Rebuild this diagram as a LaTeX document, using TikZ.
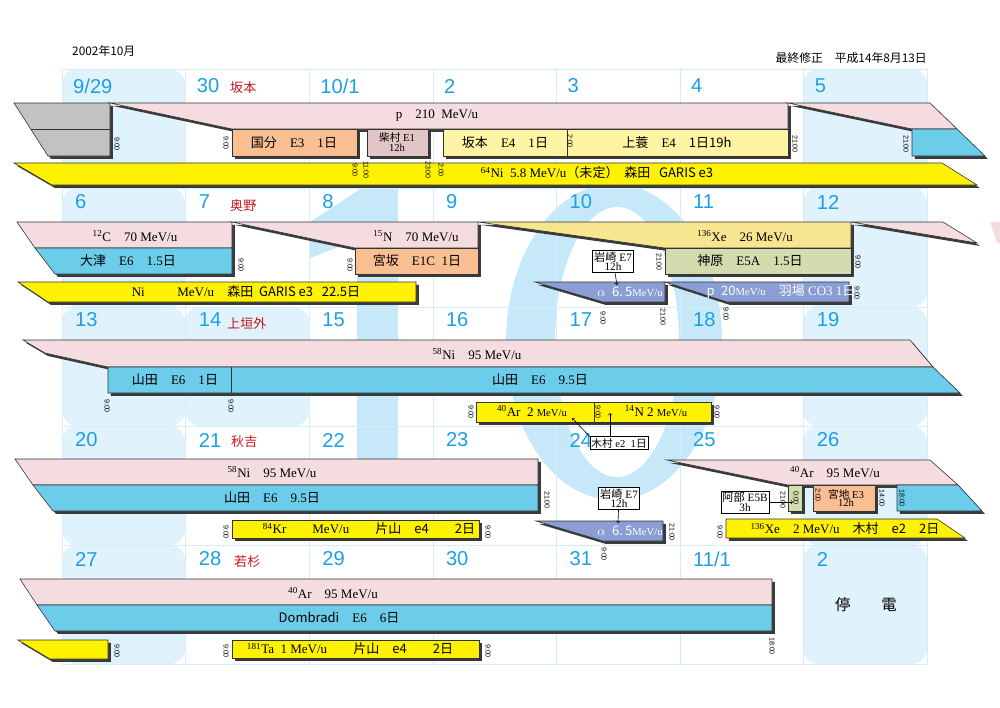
\documentclass[tikz,border=0pt]{standalone}
\usepackage{fontspec}
\setmainfont{Liberation Serif}
\newfontfamily\jpfont{Noto Sans CJK JP}
\newfontfamily\numfont{Liberation Sans}
\newcommand\JP[1]{{\jpfont #1}}
\newcommand\iso[2]{\textsuperscript{#1}#2}
\newcommand\smallunit{{\fontsize{9}{9}\selectfont MeV/u}}
\usetikzlibrary{shadows}

\definecolor{cellblue}{HTML}{E0F2FC}
\definecolor{gridblue}{HTML}{D3EDF9}
\definecolor{bigten}{HTML}{C6E8F8}
\definecolor{daynum}{HTML}{1AA0E6}
\definecolor{namered}{HTML}{C8161E}
\definecolor{beampink}{HTML}{F4DCE1}
\definecolor{expblue}{HTML}{6CCDEA}
\definecolor{gariscol}{HTML}{FFF200}
\definecolor{paleyel}{HTML}{FFF4A3}
\definecolor{xeyel}{HTML}{F7E68F}
\definecolor{orangebox}{HTML}{F9BE91}
\definecolor{mauvebox}{HTML}{E2C6C5}
\definecolor{greenbox}{HTML}{D3DCAF}
\definecolor{alphabar}{HTML}{8A9DD4}
\definecolor{greybox}{HTML}{C2C2C3}
\definecolor{shade}{HTML}{3A3A3A}
\definecolor{edge}{HTML}{333333}

\begin{document}
\begin{tikzpicture}[x=0.297mm, y=-0.297mm,
	sbar/.style={draw=edge, line width=0.5pt, drop shadow={shadow xshift=2.5pt, shadow yshift=-2.5pt, fill=shade, opacity=1}},
	btext/.style={font=\fontsize{11}{12}\selectfont, inner sep=0pt},
	wtext/.style={btext, text=white},
	tm/.style={rotate=-90, font=\numfont\fontsize{6}{6}\selectfont, inner sep=0pt},
	daynr/.style={anchor=west, font=\numfont\fontsize{17}{17}\selectfont, text=daynum, inner sep=0pt},
	host/.style={anchor=west, font=\jpfont\fontsize{11}{11}\selectfont, text=namered, inner sep=0pt},
	memo/.style={draw=black, fill=white, line width=0.5pt, font=\fontsize{9.5}{8}\selectfont, align=center, inner sep=1.2pt},
	weekend/.style={fill=cellblue, rounded corners=4.5mm}]
	\useasboundingbox (0,0) rectangle (1000,707);

	% calendar background
	\foreach \yy in {69,188,307,426,545}{
		\fill[weekend] (62,\yy) rectangle ++(123,119);
		\fill[weekend] (803,\yy) rectangle ++(124,119);
	}
	\fill[weekend] (185,307) rectangle ++(124,119);

	\fill[bigten] (365,186) -- (398,186) -- (398,510) -- (357,510) -- (357,240) -- (310,258) -- (310,222) -- cycle;
	\fill[bigten, even odd rule] (614,342) ellipse [x radius=108, y radius=158] (617,342) ellipse [x radius=62, y radius=135];

	\foreach \xx in {62,185,309,433,556,680,803,927} \draw[gridblue, line width=0.4pt] (\xx,69) -- (\xx,664);
	\foreach \yy in {69,188,307,426,545,664} \draw[gridblue, line width=0.4pt] (62,\yy) -- (927,\yy);

	\node[anchor=west, font=\jpfont\fontsize{10}{10}\selectfont, inner sep=0pt] (month) at (72,51) {2002年10月};
	\node[anchor=east, font=\jpfont\fontsize{10}{10}\selectfont, inner sep=0pt] (revised) at (927,58) {最終修正　平成14年8月13日};

	% day numbers
	\foreach \nr [count=\c from 0] in {9/29,30,10/1,2,3,4,5} \node[daynr] (wka\c) at (73+123.6*\c,86) {\nr};
	\foreach \nr [count=\c from 0] in {6,7,8,9,10,11,12} \node[daynr] (wkb\c) at (75+123.6*\c,202) {\nr};
	\foreach \nr [count=\c from 0] in {13,14,15,16,17,18,19} \node[daynr] (wkc\c) at (75+123.6*\c,320) {\nr};
	\foreach \nr [count=\c from 0] in {20,21,22,23,24,25,26} \node[daynr] (wkd\c) at (75+123.6*\c,440) {\nr};
	\foreach \nr [count=\c from 0] in {27,28,29,30,31,11/1,2} \node[daynr] (wke\c) at (75+123.6*\c,559) {\nr};

	\node[host] (hosta) at (230,88) {坂本};
	\node[host] (hostb) at (230,206) {奥野};
	\node[host] (hostc) at (227,324) {上垣外};
	\node[host] (hostd) at (231,442) {秋吉};
	\node[host] (hoste) at (234,562) {若杉};

	% week 1
	\draw[sbar, fill=greybox] (14,103) -- (110,103) -- (110,156) -- (48,156) -- cycle;
	\draw[edge, line width=0.5pt] (31,129) -- (110,129);
	\draw[sbar, fill=beampink] (110,103) -- (788,103) -- (788,129) -- (232,129) -- cycle;
	\node[btext] (p210) at (437,116) {p\quad 210\ \ MeV/u};
	\draw[sbar, fill=orangebox] (232,129) rectangle (357,156);
	\node[btext] (kokubu) at (294,143) {\JP{国分}\quad E3\quad 1\JP{日}};
	\draw[sbar, fill=mauvebox] (367,129) rectangle (428,156);
	\node[btext, align=center, font=\fontsize{9}{8}\selectfont] (shibamura) at (397,142) {\JP{柴村} E1\\12h};
	\draw[sbar, fill=paleyel] (443,129) rectangle (567,156);
	\node[btext] (sakamoto) at (505,143) {\JP{坂本}\quad E4\quad 1\JP{日}};
	\draw[sbar, fill=paleyel] (567,129) rectangle (788,156);
	\node[btext] (kamimino) at (677,143) {\JP{上蓑}\quad E4\quad \JP{1日19h}};
	\draw[sbar, fill=beampink] (788,103) -- (930,103) -- (957,129) -- (912,129) -- cycle;
	\draw[sbar, fill=expblue] (912,129) -- (957,129) -- (985,156) -- (912,156) -- cycle;
	\draw[sbar, fill=gariscol] (14,163) -- (942,163) -- (977,185) -- (52,185) -- cycle;
	\node[btext] (ni64) at (597,173) {\iso{64}{Ni}\ \ 5.8 MeV/u\JP{（未定）\ \ 森田\ \ \ GARIS e3}};
	\foreach \xx/\yy/\hr [count=\c] in {117/144/9:00, 226/143/9:00, 355/170/9:00, 366/170/11:00, 428/170/23:00, 441/170/2:00, 570/141/2:00, 795/144/21:00, 906/144/21:00}
		\node[tm] (tma\c) at (\xx,\yy) {\hr};

	% week 2
	\draw[sbar, fill=beampink] (17,222) -- (232,222) -- (232,248) -- (35,248) -- cycle;
	\node[btext] (c12) at (135,236) {\iso{12}{C}\quad 70 MeV/u};
	\draw[sbar, fill=expblue] (35,248) -- (232,248) -- (232,274) -- (55,274) -- cycle;
	\node[btext] (otsu) at (128,261) {\JP{大津}\quad E6\quad 1.5\JP{日}};
	\draw[sbar, fill=beampink] (232,222) -- (478,222) -- (478,248) -- (355,248) -- cycle;
	\node[btext] (n15) at (416,236) {\iso{15}{N}\quad 70 MeV/u};
	\draw[sbar, fill=orangebox] (355,248) rectangle (478,274);
	\node[btext] (miyasaka) at (417,261) {\JP{宮坂}\quad E1C\ \ 1\JP{日}};
	\draw[sbar, fill=xeyel] (478,222) -- (851,222) -- (851,248) -- (665,248) -- cycle;
	\node[btext] (xe136a) at (745,236) {\iso{136}{Xe}\quad 26 MeV/u};
	\draw[sbar, fill=greenbox] (665,248) rectangle (851,274);
	\node[btext] (kanbara) at (750,261) {\JP{神原}\quad E5A\quad 1.5\JP{日}};
	\draw[sbar, fill=beampink] (851,222) -- (943,222) -- (977,243) -- cycle;
	\fill[beampink] (990,222) -- (1000,222) -- (1000,243) -- (997,243) -- cycle;
	\draw[sbar, fill=gariscol] (18,282) -- (416,282) -- (416,302) -- (48,302) -- cycle;
	\node[btext] (ni2) at (246,292) {Ni\qquad\ \ MeV/u\quad\JP{森田\ \ GARIS e3\ \ \ 22.5日}};
	\draw[sbar, fill=alphabar] (535,282) -- (665,282) -- (665,302) -- (603,302) -- cycle;
	\node[wtext] (alphaa) at (630,292) {$\alpha$\ \ \JP{6.\,5}\smallunit};
	\draw[sbar, fill=alphabar] (665,282) -- (849,282) -- (849,302) -- (727,302) -- cycle;
	\node[wtext] (p20) at (781,292) {\JP{p}\ \ \JP{20}\smallunit\quad\JP{羽場} CO3 1\JP{日}};
	\node[memo] (iwasakia) at (613,261) {\JP{岩崎} E7\\12h};
	\coordinate (iwasakiaend) at (617,285);
	\draw[->, line width=0.5pt] (iwasakia) -- (iwasakiaend);
	\foreach \xx/\yy/\hr [count=\c] in {241/265/9:00, 350/265/9:00, 659/262/21:00, 858/262/9:00, 857/293/9:00, 603/318/9:00, 663/317/21:00, 726/314/9:00}
		\node[tm] (tmb\c) at (\xx,\yy) {\hr};

	% week 3
	\draw[sbar, fill=beampink] (23,340) -- (910,340) -- (933,367) -- (108,367) -- (45,353) -- cycle;
	\node[btext] (ni58a) at (477,354) {\iso{58}{Ni}\quad 95 MeV/u};
	\draw[sbar, fill=expblue] (108,367) -- (933,367) -- (960,393) -- (108,393) -- cycle;
	\draw[edge, line width=0.5pt] (231,367) -- (231,393);
	\node[btext] (yamadaa) at (175,380) {\JP{山田}\quad E6\quad 1\JP{日}};
	\node[btext] (yamadab) at (540,380) {\JP{山田}\quad E6\quad 9.5\JP{日}};
	\draw[sbar, fill=gariscol] (476,402) rectangle (594,422);
	\node[btext] (ar40a) at (532,411) {\iso{40}{Ar}\ \ 2 \smallunit};
	\draw[sbar, fill=gariscol] (594,402) rectangle (711,422);
	\node[btext] (n14) at (656,411) {\iso{14}{N} 2 \smallunit};
	\node[memo, font=\fontsize{9}{9}\selectfont] (kimuraa) at (619,443) {\JP{木村} e2\ \ 1\JP{日}};
	\coordinate (kimuraar) at (572,418);
	\coordinate (kimuranr) at (610,413);
	\draw[->, line width=0.5pt] (kimuraa.north west) -- (kimuraar);
	\draw[->, line width=0.5pt] (kimuranr |- kimuraa.north) -- (kimuranr);
	\foreach \xx/\yy/\hr [count=\c] in {107/406/9:00, 231/406/9:00, 471/412/9:00, 598/412/9:00, 717/412/9:00}
		\node[tm] (tmc\c) at (\xx,\yy) {\hr};

	% week 4
	\draw[sbar, fill=beampink] (15,459) -- (538,459) -- (538,485) -- (33,485) -- cycle;
	\node[btext] (ni58b) at (272,472) {\iso{58}{Ni}\quad 95 MeV/u};
	\draw[sbar, fill=expblue] (33,485) -- (538,485) -- (538,511) -- (53,511) -- cycle;
	\node[btext] (yamadac) at (272,498) {\JP{山田}\quad E6\quad 9.5\JP{日}};
	\draw[sbar, fill=gariscol] (232,520) rectangle (479,538);
	\node[btext] (kr84) at (369,529) {\iso{84}{Kr}\qquad MeV/u\qquad\JP{片山\quad e4\qquad 2日}};
	\draw[sbar, fill=alphabar] (536,521) -- (663,521) -- (663,541) -- (603,541) -- cycle;
	\node[wtext] (alphab) at (630,531) {$\alpha$\ \ \JP{6.\,5}\smallunit};
	\node[memo] (iwasakib) at (619,498) {\JP{岩崎} E7\\12h};
	\coordinate (iwasakibend) at (618,523);
	\draw[->, line width=0.5pt] (iwasakib) -- (iwasakibend);
	\draw[sbar, fill=beampink] (667,460) -- (930,460) -- (958,485) -- (788,485) -- cycle;
	\node[btext] (ar40b) at (835,472) {\iso{40}{Ar}\quad 95 MeV/u};
	\draw[sbar, fill=greenbox] (788,485) rectangle (802,511);
	\draw[sbar, fill=orangebox] (813,485) rectangle (875,511);
	\node[btext, align=center, font=\fontsize{9}{7.5}\selectfont] (miyaji) at (846,498) {\JP{宮地} E3\\12h};
	\draw[sbar, fill=expblue] (897,485) -- (958,485) -- (982,511) -- (897,511) -- cycle;
	\node[memo] (abe) at (745,502) {\JP{阿部} E5B\\3h};
	\coordinate (abeend) at (793,502);
	\draw[->, line width=0.5pt] (abe) -- (abeend);
	\draw[sbar, fill=gariscol] (726,519) -- (937,519) -- (965,538) -- (726,538) -- cycle;
	\node[btext] (xe136b) at (845,529) {\iso{136}{Xe}\quad 2 MeV/u\quad\JP{木村\quad e2\quad 2日}};
	\foreach \xx/\yy/\hr [count=\c] in {547/500/21:00, 226/532/9:00, 488/532/9:00, 672/532/21:00, 604/554/9:00, 720/532/9:00, 783/500/21:00, 796/498/0:00, 818/495/2:00, 882/498/14:00, 902/498/18:00}
		\node[tm] (tmd\c) at (\xx,\yy) {\hr};

	% week 5
	\draw[sbar, fill=beampink] (20,579) -- (772,579) -- (772,605) -- (37,605) -- cycle;
	\node[btext] (ar40c) at (333,593) {\iso{40}{Ar}\quad 95 MeV/u};
	\draw[sbar, fill=expblue] (37,605) -- (772,605) -- (772,631) -- (55,631) -- cycle;
	\node[btext] (dombradi) at (339,618) {\JP{Dombradi}\quad E6\quad 6\JP{日}};
	\draw[sbar, fill=gariscol] (18,640) -- (108,640) -- (108,659) -- (50,659) -- cycle;
	\draw[sbar, fill=gariscol] (232,640) rectangle (479,658);
	\node[btext] (ta181) at (350,649) {\iso{181}{Ta}\ \ 1 MeV/u\qquad\JP{片山\quad e4\qquad 2日}};
	\foreach \xx/\yy/\hr [count=\c] in {117/651/9:00, 226/651/9:00, 488/651/9:00, 772/646/18:00}
		\node[tm] (tme\c) at (\xx,\yy) {\hr};
	\node[font=\jpfont\fontsize{13}{13}\selectfont, inner sep=0pt] (teiden) at (866,605) {停\qquad 電};
\end{tikzpicture}
\end{document}
